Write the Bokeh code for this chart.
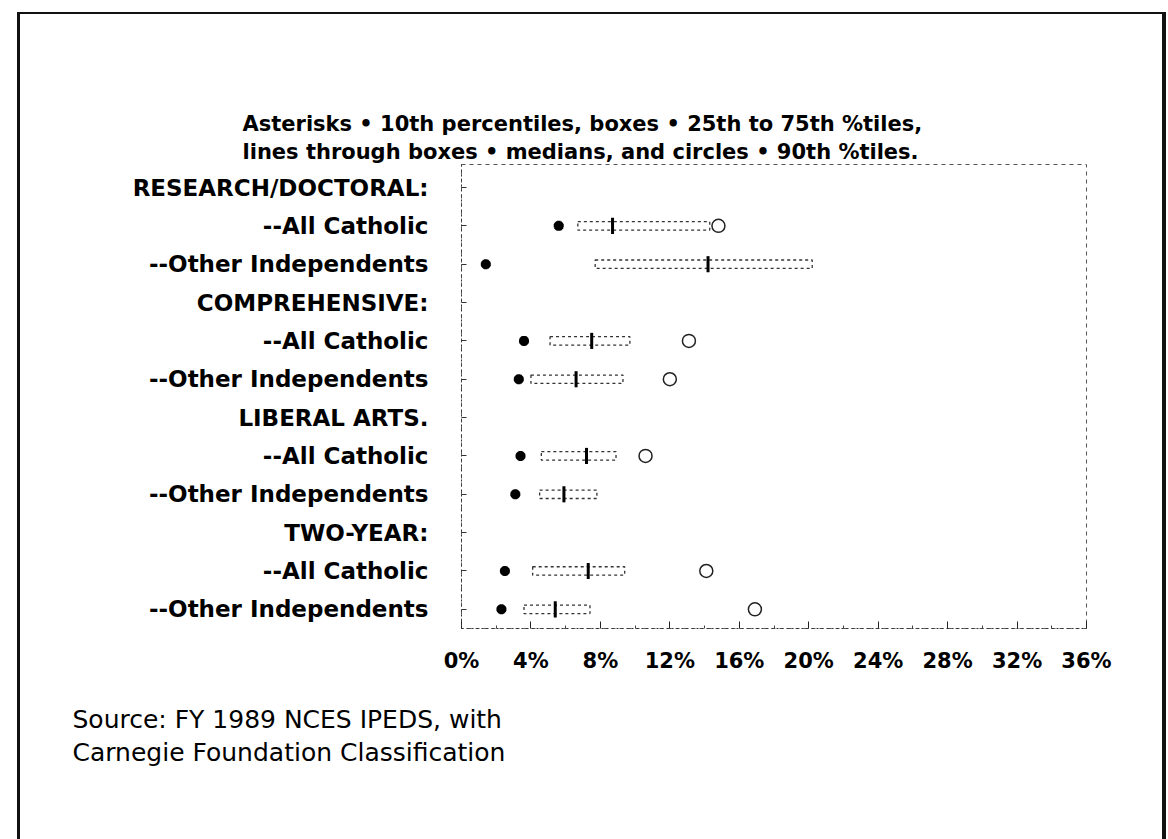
from bokeh.plotting import figure
from bokeh.models import Range1d, FixedTicker, ColumnDataSource, Title
from bokeh.embed import file_html
from bokeh.resources import INLINE

# ---------------- data ----------------
row_labels = ["RESEARCH/DOCTORAL:", "--All Catholic", "--Other Independents",
              "COMPREHENSIVE:", "--All Catholic", "--Other Independents",
              "LIBERAL ARTS.", "--All Catholic", "--Other Independents",
              "TWO-YEAR:", "--All Catholic", "--Other Independents"]
data_rows = [1, 2, 4, 5, 7, 8, 10, 11]
p10 = [5.6, 1.4, 3.6, 3.3, 3.4, 3.1, 2.5, 2.3]
q25 = [6.7, 7.7, 5.1, 4.0, 4.6, 4.5, 4.1, 3.6]
median = [8.7, 14.2, 7.5, 6.6, 7.2, 5.9, 7.3, 5.4]
q75 = [14.3, 20.2, 9.7, 9.3, 8.9, 7.8, 9.4, 7.4]
p90 = [14.8, float("nan"), 13.1, 12.0, 10.6, float("nan"), 14.1, 16.9]
tick_values = [0, 4, 8, 12, 16, 20, 24, 28, 32, 36]
tick_labels = ["0%", "4%", "8%", "12%", "16%", "20%", "24%", "28%", "32%", "36%"]
title_lines = ["Asterisks \u2022 10th percentiles, boxes \u2022 25th to 75th %tiles,",
               "lines through boxes \u2022 medians, and circles \u2022 90th %tiles."]
source_lines = ["Source: FY 1989 NCES IPEDS, with",
                "Carnegie Foundation Classification"]

FONT = "DejaVu Sans"

p = figure(width=1168, height=839, output_backend="svg", toolbar_location=None,
           x_range=Range1d(0, 36), y_range=Range1d(11.5, -0.6),
           min_border_left=461, min_border_right=82,
           min_border_top=164, min_border_bottom=211)
p.xgrid.visible = False
p.ygrid.visible = False
p.outline_line_color = "#555555"
p.outline_line_dash = "4 4"
p.outline_line_width = 1
p.background_fill_color = "white"
p.border_fill_color = None

# page border drawn behind the transparent canvas
p.styles = {
    "background-color": "white",
    "box-shadow": ("inset 17px 0 0 white, inset 0 12px 0 white, inset -2px 0 0 white, "
                   "inset 20px 0 0 #111, inset 0 14px 0 #111, inset -6px 0 0 #111"),
}

# x axis
minor = [(a + b) / 2 for a, b in zip(tick_values[:-1], tick_values[1:])]
p.xaxis.ticker = FixedTicker(ticks=tick_values, minor_ticks=minor)
p.xaxis.major_label_overrides = {v: l for v, l in zip(tick_values, tick_labels)}
p.xaxis.major_tick_in = 7
p.xaxis.major_tick_out = 0
p.xaxis.minor_tick_in = 3
p.xaxis.minor_tick_out = 0
p.xaxis.axis_line_dash = "2 3"
p.xaxis.axis_line_color = "#333333"
p.xaxis.major_tick_line_color = "#222222"
p.xaxis.minor_tick_line_color = "#444444"
p.xaxis.major_label_text_font = FONT
p.xaxis.major_label_text_font_style = "bold"
p.xaxis.major_label_text_font_size = "21px"
p.xaxis.major_label_text_color = "black"
p.xaxis.major_label_standoff = 20

# y axis
p.yaxis.ticker = FixedTicker(ticks=list(range(len(row_labels))), minor_ticks=[])
p.yaxis.major_label_overrides = {i: l for i, l in enumerate(row_labels)}
p.yaxis.major_tick_in = 5
p.yaxis.major_tick_out = 0
p.yaxis.axis_line_dash = "2 3"
p.yaxis.axis_line_color = "#333333"
p.yaxis.major_tick_line_color = "#333333"
p.yaxis.major_label_text_font = FONT
p.yaxis.major_label_text_font_style = "bold"
p.yaxis.major_label_text_font_size = "23px"
p.yaxis.major_label_text_color = "black"
p.yaxis.major_label_standoff = 33

src = ColumnDataSource(dict(y=data_rows, p10=p10, q25=q25, med=median, q75=q75, p90=p90))

p.hbar(y="y", left="q25", right="q75", height=0.22, source=src,
       fill_color=None, line_color="#333333", line_width=1.3, line_dash="3 3")
p.rect(x="med", y="y", width=3, height=0.42, width_units="screen", source=src,
       fill_color="black", line_color=None)
p.scatter(x="p10", y="y", marker="asterisk", size=10, line_width=3.5,
          line_color="black", source=src)
p.scatter(x="p90", y="y", marker="circle", size=13, fill_color=None,
          line_color="#222222", line_width=1.5, source=src)

# title above the frame (two lines)
p.title.text = "\n".join(title_lines)
p.title.align = "left"
p.title.offset = -219
p.title.standoff = 0
p.title.text_font = FONT
p.title.text_font_style = "bold"
p.title.text_font_size = "21px"
p.title.text_line_height = 1.2
p.title.text_color = "black"

# source note below the axis
p.add_layout(Title(text="\n".join(source_lines), align="left", offset=-389, standoff=55,
                   text_font=FONT, text_font_style="normal", text_font_size="25px",
                   text_line_height=1.15, text_color="black"), "below")

open("out.html", "w").write(file_html(p, INLINE))
